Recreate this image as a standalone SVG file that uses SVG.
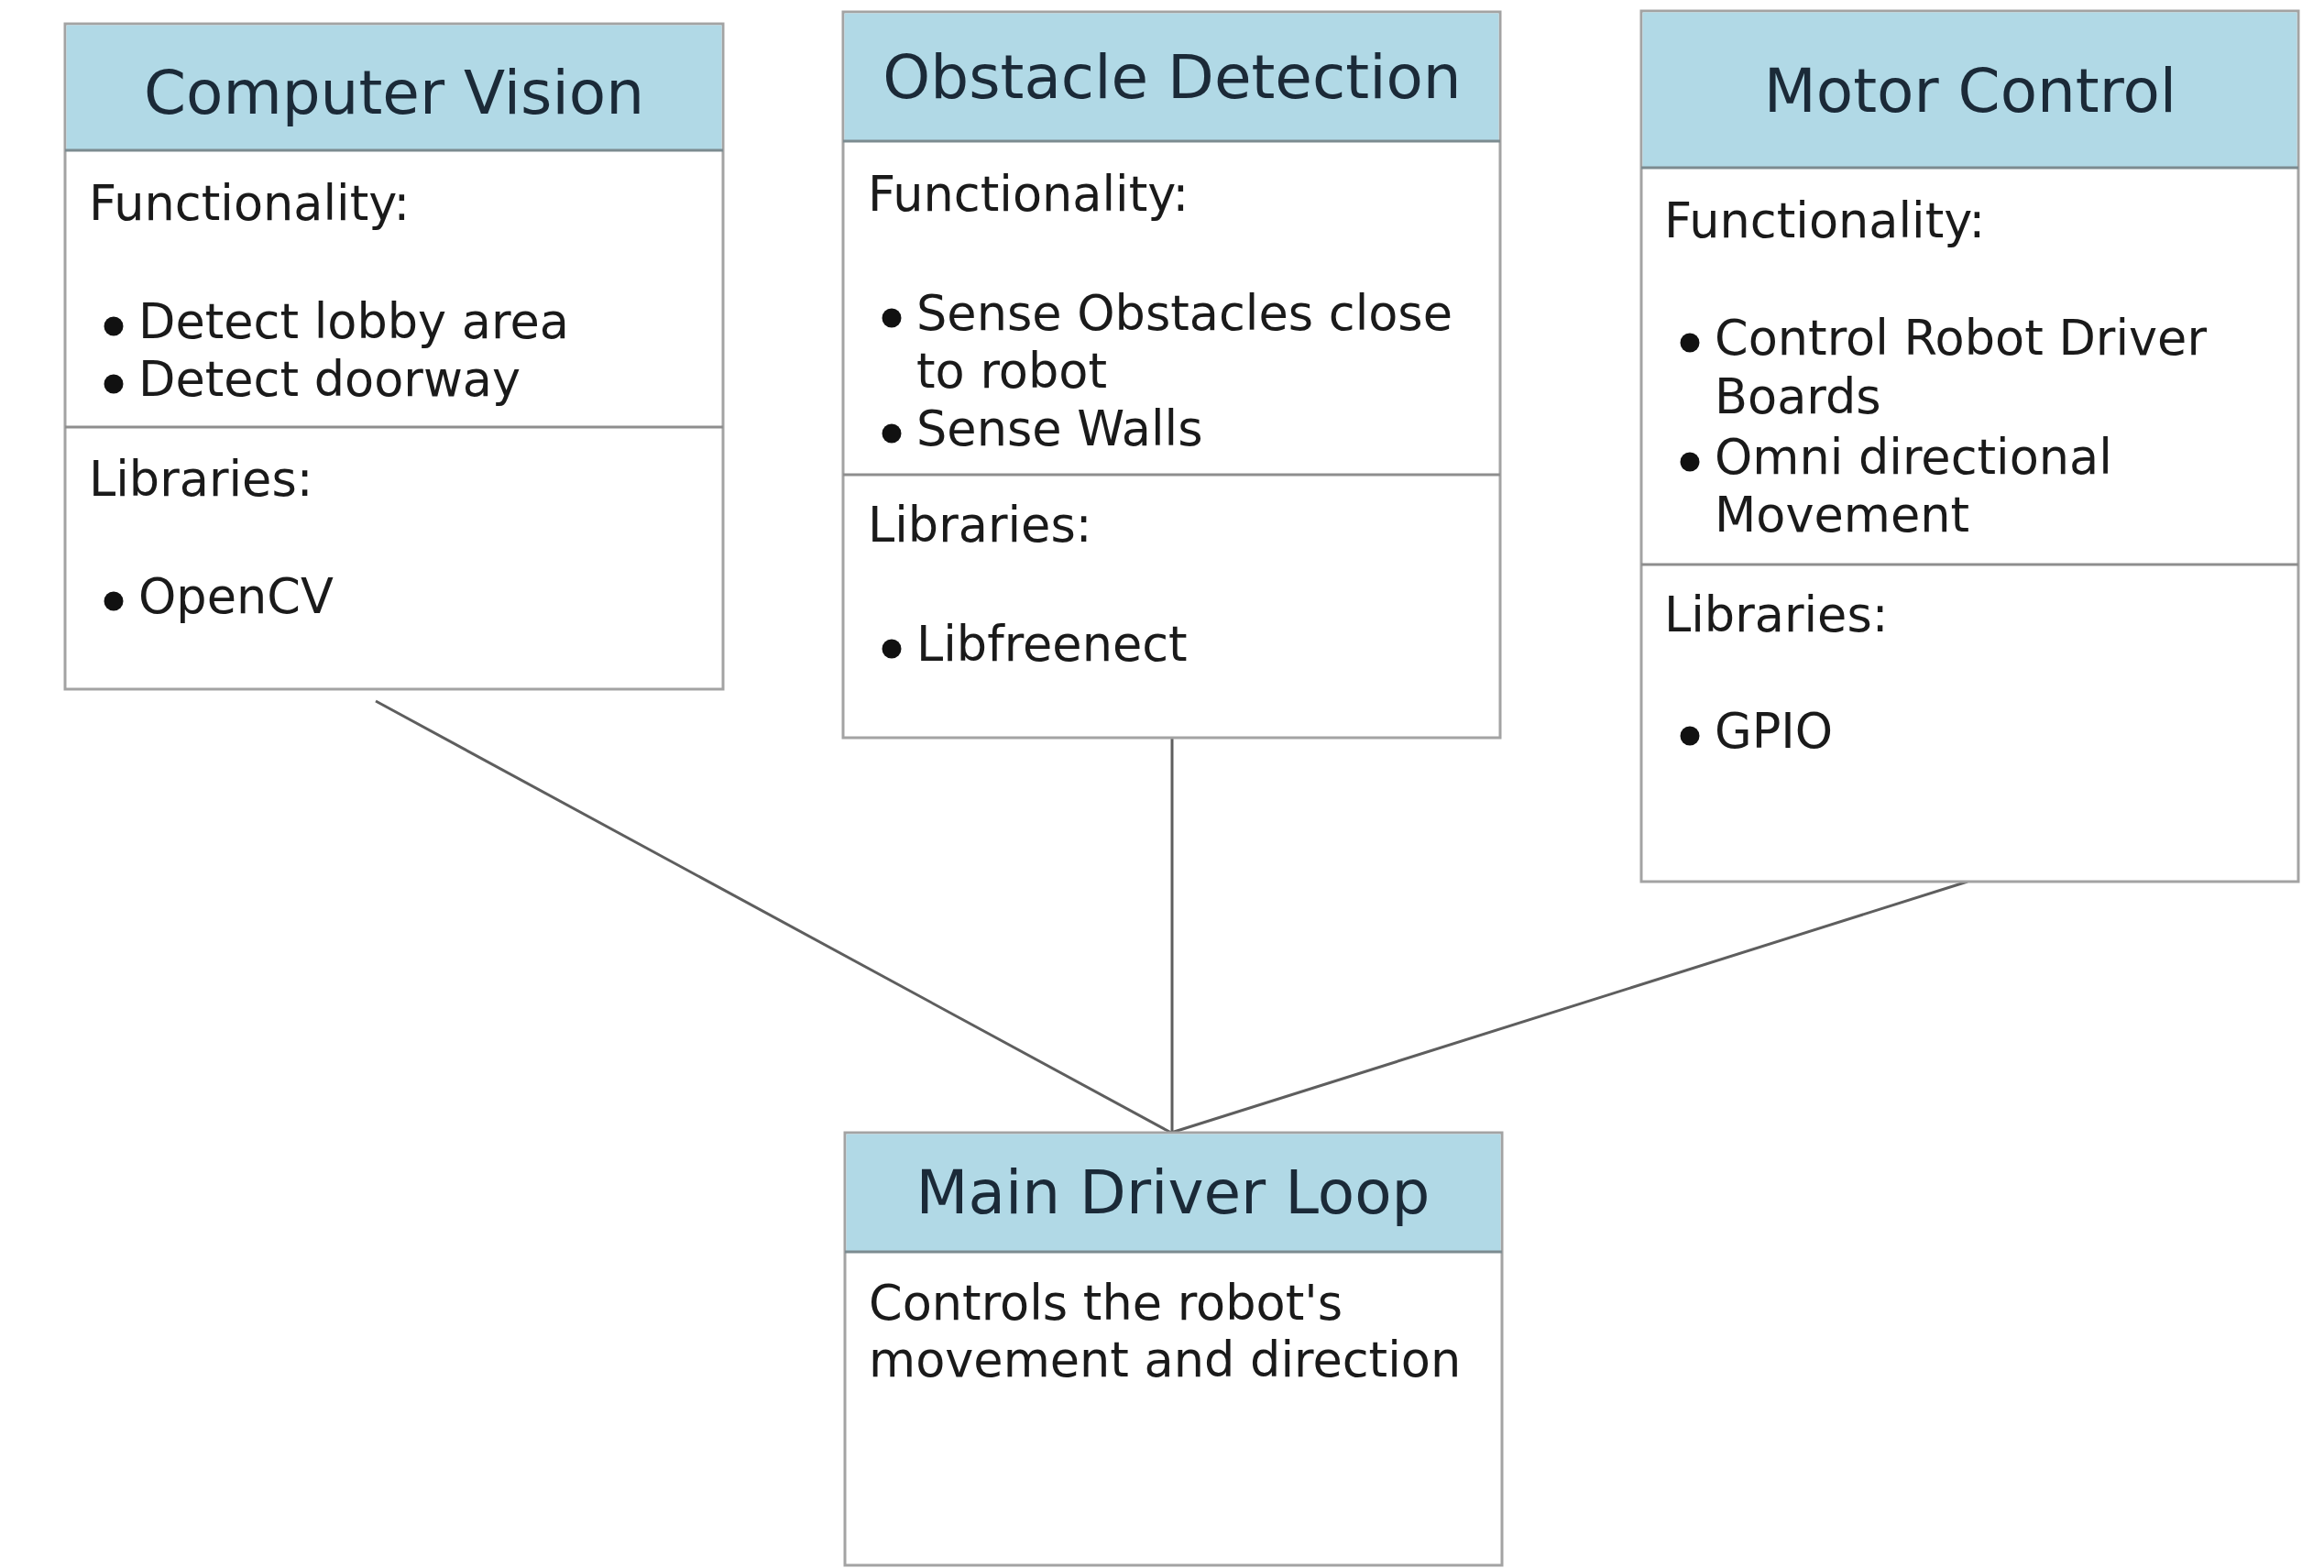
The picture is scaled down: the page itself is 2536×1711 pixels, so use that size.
<svg xmlns="http://www.w3.org/2000/svg" width="2536" height="1711" viewBox="0 0 2536 1711">
<style>
.box{fill:#ffffff;stroke:#a3a3a3;stroke-width:3}
.hdr{fill:#b1d9e6;stroke:none}
.hline{stroke:#7c8b90;stroke-width:3}
.div{stroke:#8e8e8e;stroke-width:3}
.title{font-family:"DejaVu Sans",Verdana,sans-serif;font-size:66px;fill:#1b2a38;text-anchor:middle}
.body{font-family:"DejaVu Sans",Tahoma,sans-serif;font-size:52.5px;fill:#1a1a1a}
.dot{fill:#111111}
.conn{stroke:#5e5e5e;stroke-width:3;fill:none}
</style>
<rect width="2536" height="1711" fill="#ffffff"/>
<g id="connectors">
<line class="conn" x1="410" y1="765" x2="1278" y2="1236"/>
<line class="conn" x1="1279" y1="805" x2="1279" y2="1236"/>
<line class="conn" x1="2147" y1="962" x2="1278" y2="1236"/>
</g>
<g id="computer-vision">
<rect class="box" x="71" y="26" width="718" height="726"/>
<rect class="hdr" x="72.5" y="27.5" width="715" height="136.5"/>
<line class="hline" x1="71" y1="164" x2="789" y2="164"/>
<line class="div" x1="71" y1="466" x2="789" y2="466"/>
<text class="title" x="430" y="124">Computer Vision</text>
<text class="body" x="97" y="240">Functionality:</text>
<circle class="dot" cx="124" cy="356" r="10.5"/>
<text class="body" x="151" y="369">Detect lobby area</text>
<circle class="dot" cx="124" cy="419" r="10.5"/>
<text class="body" x="151" y="432">Detect doorway</text>
<text class="body" x="97" y="541">Libraries:</text>
<circle class="dot" cx="124" cy="656" r="10.5"/>
<text class="body" x="151" y="669">OpenCV</text>
</g>
<g id="obstacle-detection">
<rect class="box" x="920" y="13" width="717" height="792"/>
<rect class="hdr" x="921.5" y="14.5" width="714" height="139.5"/>
<line class="hline" x1="920" y1="154" x2="1637" y2="154"/>
<line class="div" x1="920" y1="518" x2="1637" y2="518"/>
<text class="title" x="1279" y="107">Obstacle Detection</text>
<text class="body" x="947" y="230">Functionality:</text>
<circle class="dot" cx="973" cy="347" r="10.5"/>
<text class="body" x="1000" y="360">Sense Obstacles close</text>
<text class="body" x="1000" y="423">to robot</text>
<circle class="dot" cx="973" cy="473" r="10.5"/>
<text class="body" x="1000" y="486">Sense Walls</text>
<text class="body" x="947" y="591">Libraries:</text>
<circle class="dot" cx="973" cy="708" r="10.5"/>
<text class="body" x="1000" y="721">Libfreenect</text>
</g>
<g id="motor-control">
<rect class="box" x="1791" y="12" width="717" height="950"/>
<rect class="hdr" x="1792.5" y="13.5" width="714" height="169.5"/>
<line class="hline" x1="1791" y1="183" x2="2508" y2="183"/>
<line class="div" x1="1791" y1="616" x2="2508" y2="616"/>
<text class="title" x="2150" y="122">Motor Control</text>
<text class="body" x="1816" y="259">Functionality:</text>
<circle class="dot" cx="1844" cy="374" r="10.5"/>
<text class="body" x="1871" y="387">Control Robot Driver</text>
<text class="body" x="1871" y="451">Boards</text>
<circle class="dot" cx="1844" cy="504" r="10.5"/>
<text class="body" x="1871" y="517">Omni directional</text>
<text class="body" x="1871" y="580">Movement</text>
<text class="body" x="1816" y="689">Libraries:</text>
<circle class="dot" cx="1844" cy="803" r="10.5"/>
<text class="body" x="1871" y="816">GPIO</text>
</g>
<g id="main-driver-loop">
<rect class="box" x="922" y="1236" width="717" height="472"/>
<rect class="hdr" x="923.5" y="1237.5" width="714" height="128.5"/>
<line class="hline" x1="922" y1="1366" x2="1639" y2="1366"/>
<text class="title" x="1280" y="1324">Main Driver Loop</text>
<text class="body" x="948" y="1440">Controls the robot's</text>
<text class="body" x="948" y="1502">movement and direction</text>
</g>
</svg>
